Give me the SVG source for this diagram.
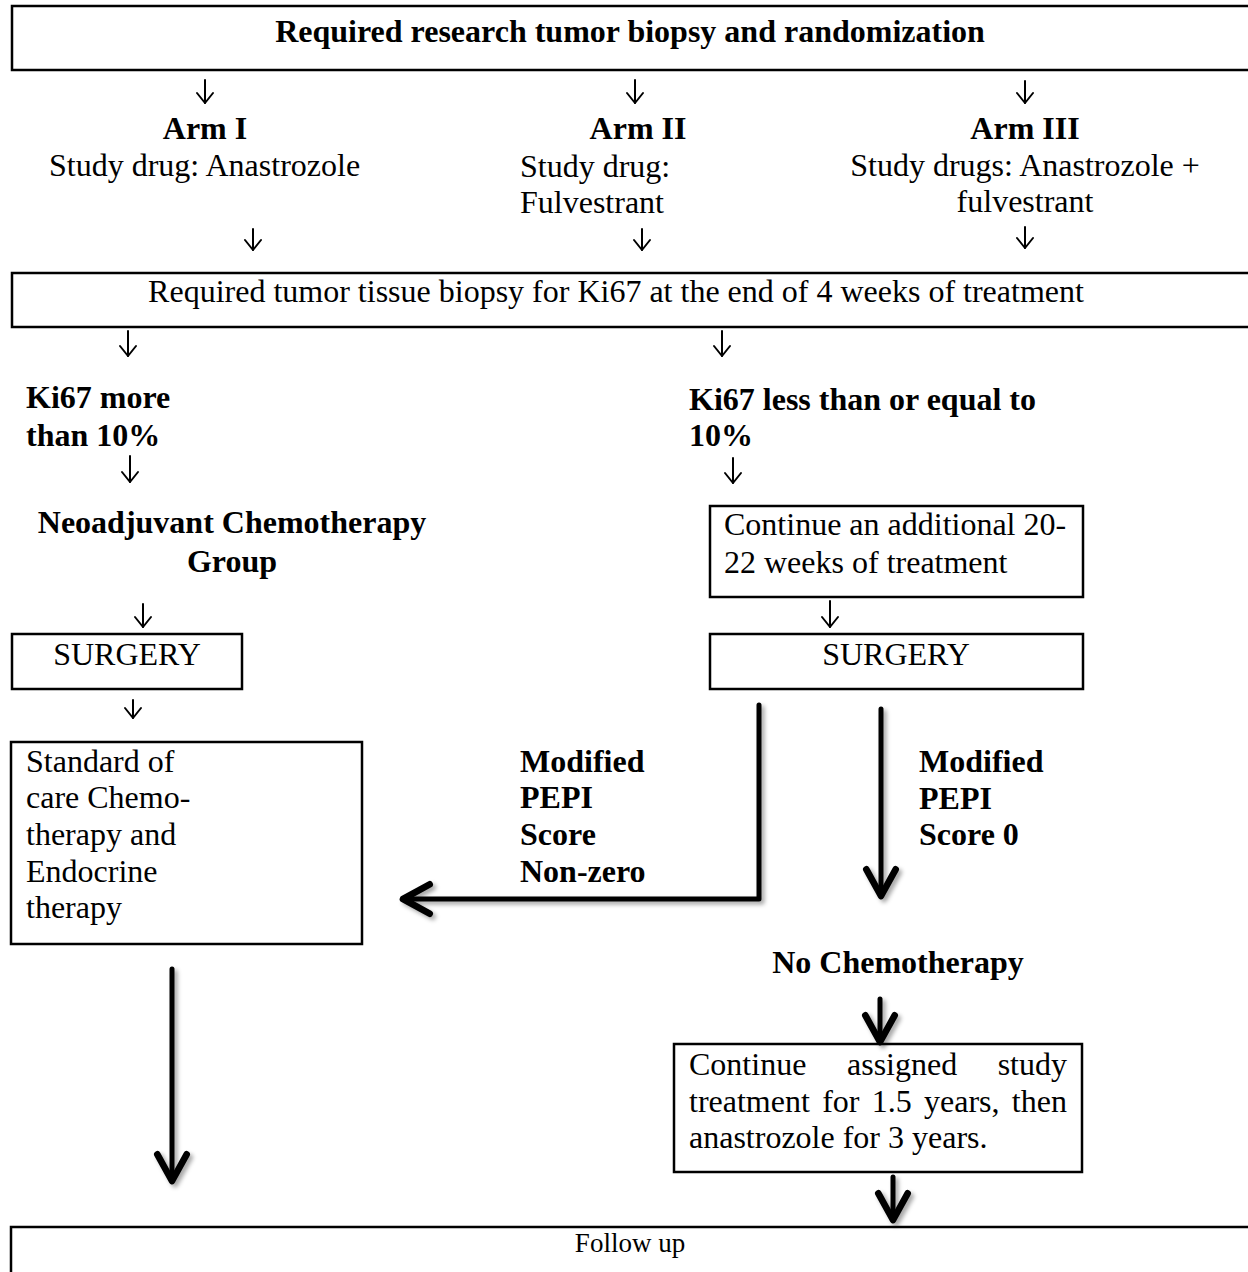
<svg xmlns="http://www.w3.org/2000/svg" width="1248" height="1272" viewBox="0 0 1248 1272">
<style>
  text { font-family: "Liberation Serif", "Times New Roman", serif; font-size: 32px; fill: #000; }
  .b { font-weight: bold; }
  .c { text-anchor: middle; }
  .small { font-size: 27px; }
  .box { fill: #fff; stroke: #000; stroke-width: 2.5; }
  .thick { fill: none; stroke: #000; stroke-width: 5; stroke-linecap: round; stroke-linejoin: round; }
  .thin { fill: none; stroke: #000; stroke-width: 2; stroke-linecap: round; stroke-linejoin: round; }
</style>
<defs>
  <marker id="head" markerUnits="userSpaceOnUse" orient="auto" refX="0" refY="0" markerWidth="40" markerHeight="40" viewBox="-25 -15 30 30" overflow="visible">
    <path d="M-20,-11 L0,0 L-20,11" fill="none" stroke="#000" stroke-width="5" stroke-linecap="round" stroke-linejoin="round"/>
  </marker>
  <marker id="thinhead" markerUnits="userSpaceOnUse" orient="auto" refX="0" refY="0" markerWidth="20" markerHeight="20" viewBox="-12 -10 14 20" overflow="visible">
    <path d="M-10,-8 L0,0 L-10,8" fill="none" stroke="#000" stroke-width="2" stroke-linecap="round" stroke-linejoin="round"/>
  </marker>
  <filter id="shadow" x="-20%" y="-20%" width="140%" height="140%">
    <feDropShadow dx="3" dy="3" stdDeviation="2" flood-color="#000" flood-opacity="0.35"/>
  </filter>
</defs>
<rect width="1248" height="1272" fill="#fff"/>

<g id="n-randomization">
  <rect class="box" x="12" y="6" width="1250" height="64"/>
  <text class="b c" x="630" y="42">Required research tumor biopsy and randomization</text>
</g>
<g id="n-arm1">
  <text class="b c" x="205" y="139">Arm I</text>
  <text x="49" y="176">Study drug: Anastrozole</text>
</g>
<g id="n-arm2">
  <text class="b c" x="638" y="139">Arm II</text>
  <text x="520" y="177">Study drug:</text>
  <text x="520" y="213">Fulvestrant</text>
</g>
<g id="n-arm3">
  <text class="b c" x="1025" y="139">Arm III</text>
  <text class="c" x="1025" y="176">Study drugs: Anastrozole +</text>
  <text class="c" x="1025" y="212">fulvestrant</text>
</g>
<g id="n-ki67biopsy">
  <rect class="box" x="12" y="273" width="1250" height="54"/>
  <text class="c" x="616" y="302">Required tumor tissue biopsy for Ki67 at the end of 4 weeks of treatment</text>
</g>
<g id="n-ki67high">
  <text class="b" x="26" y="408">Ki67 more</text>
  <text class="b" x="26" y="446">than 10%</text>
</g>
<g id="n-ki67low">
  <text class="b" x="689" y="410">Ki67 less than or equal to</text>
  <text class="b" x="689" y="446">10%</text>
</g>
<g id="n-neoadjuvant">
  <text class="b c" x="232" y="533">Neoadjuvant Chemotherapy</text>
  <text class="b c" x="232" y="572">Group</text>
</g>
<g id="n-continue20">
  <rect class="box" x="710" y="506" width="373" height="91"/>
  <text x="724" y="535">Continue an additional 20-</text>
  <text x="724" y="573">22 weeks of treatment</text>
</g>
<g id="n-surgery-left">
  <rect class="box" x="12" y="634" width="230" height="55"/>
  <text class="c" x="127" y="665">SURGERY</text>
</g>
<g id="n-surgery-right">
  <rect class="box" x="710" y="634" width="373" height="55"/>
  <text class="c" x="896" y="665">SURGERY</text>
</g>
<g id="n-standard">
  <rect class="box" x="11" y="742" width="351" height="202"/>
  <text x="26" y="772">Standard of</text>
  <text x="26" y="808">care Chemo-</text>
  <text x="26" y="845">therapy and</text>
  <text x="26" y="882">Endocrine</text>
  <text x="26" y="918">therapy</text>
</g>
<g id="l-nonzero">
  <text class="b" x="520" y="772">Modified</text>
  <text class="b" x="520" y="808">PEPI</text>
  <text class="b" x="520" y="845">Score</text>
  <text class="b" x="520" y="882">Non-zero</text>
</g>
<g id="l-score0">
  <text class="b" x="919" y="772">Modified</text>
  <text class="b" x="919" y="809">PEPI</text>
  <text class="b" x="919" y="845">Score 0</text>
</g>
<g id="n-nochemo">
  <text class="b c" x="898" y="973">No Chemotherapy</text>
</g>
<g id="n-continue-assigned">
  <rect class="box" x="674" y="1044" width="408" height="128"/>
  <text y="1075"><tspan x="689">Continue</tspan><tspan x="847">assigned</tspan><tspan x="1067" text-anchor="end">study</tspan></text>
  <text x="689" y="1112" word-spacing="4.3">treatment for 1.5 years, then</text>
  <text x="689" y="1148">anastrozole for 3 years.</text>
</g>
<g id="n-followup">
  <rect class="box" x="11" y="1227" width="1250" height="60"/>
  <text class="c small" x="630" y="1252">Follow up</text>
</g>

<g id="connectors">
  <g id="thin-arrows">
    <path class="thin" d="M205,80 V103" marker-end="url(#thinhead)"/>
    <path class="thin" d="M635,80 V103" marker-end="url(#thinhead)"/>
    <path class="thin" d="M1025,81 V103" marker-end="url(#thinhead)"/>
    <path class="thin" d="M253,229 V250" marker-end="url(#thinhead)"/>
    <path class="thin" d="M642,229 V250" marker-end="url(#thinhead)"/>
    <path class="thin" d="M1025,227 V248" marker-end="url(#thinhead)"/>
    <path class="thin" d="M128,331 V356" marker-end="url(#thinhead)"/>
    <path class="thin" d="M722,331 V356" marker-end="url(#thinhead)"/>
    <path class="thin" d="M130,456 V482" marker-end="url(#thinhead)"/>
    <path class="thin" d="M733,458 V483" marker-end="url(#thinhead)"/>
    <path class="thin" d="M143,604 V627" marker-end="url(#thinhead)"/>
    <path class="thin" d="M830,601 V627" marker-end="url(#thinhead)"/>
    <path class="thin" d="M133,700 V718" marker-end="url(#thinhead)"/>
  </g>
  <g id="thick-arrows" filter="url(#shadow)">
    <path class="thick" d="M759,705 L759,899 L403,899" marker-end="url(#head)"/>
    <path class="thick" d="M881,709 L881,896" marker-end="url(#head)"/>
    <path class="thick" d="M172,969 L172,1181" marker-end="url(#head)"/>
    <path class="thick" d="M880,999 L880,1042" marker-end="url(#head)"/>
    <path class="thick" d="M893,1177 L893,1220" marker-end="url(#head)"/>
  </g>
</g>
</svg>
